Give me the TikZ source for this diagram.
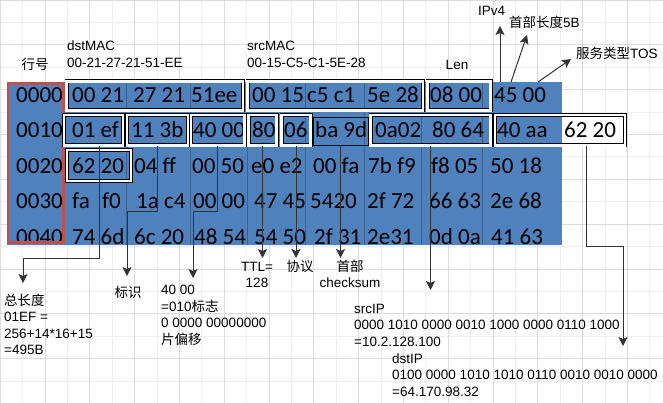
\documentclass[tikz,border=0pt]{standalone}
\usepackage{fontspec}
\setmainfont{Liberation Sans}
\newfontfamily\hexfont{Carlito}
\newfontfamily\cjk{Noto Sans CJK SC}
\usetikzlibrary{arrows.meta,fit,positioning}
\definecolor{hexblue}{HTML}{4F81BD}
\definecolor{rowred}{HTML}{C0504D}
\definecolor{gridminor}{HTML}{EEEEEE}
\definecolor{gridmajor}{HTML}{DCDCDC}
\tikzset{
  hexcell/.style={anchor=base west, inner sep=0pt, font=\hexfont\fontsize{23}{24}\selectfont},
  dbox/.style={draw=black, double=white, double distance=2.6pt, line width=0.7pt, inner sep=0pt},
  note/.style={inner sep=0pt, font=\fontsize{13.5}{16.4}\selectfont, align=left},
  conn/.style={draw=black!80, line width=1pt, -{Stealth[length=9pt,width=9pt,inset=2pt]}},
}

\begin{document}
\begin{tikzpicture}[x=1pt, y=-1pt]
\useasboundingbox (0,0) rectangle (663,403);
\fill[white] (0,0) rectangle (663,403);
\draw[gridminor, line width=0.6pt, step=22.4pt] (0pt,-403pt) grid (663pt,0pt);
\draw[gridmajor, line width=0.6pt, step=44.8pt] (0pt,-403pt) grid (663pt,0pt);

% hex dump area
\fill[hexblue] (7,82) rectangle (562,245);
\fill[white] (562,115) rectangle (625,145.5);
\draw[hexblue!75!black, line width=0.5pt] (126,82) -- (126,245) (190,82) -- (190,245) (247,82) -- (247,245)
  (305,82) -- (305,245) (364,82) -- (364,245) (421,82) -- (421,245) (482,82) -- (482,245);

\node (row0) [hexcell] at (16,102.5) {0000};
\node (row1) [hexcell] at (16,138) {0010};
\node (row2) [hexcell] at (16,173.5) {0020};
\node (row3) [hexcell] at (16,209) {0030};
\node (row4) [hexcell] at (16,244.5) {0040};

\node (h00) [hexcell] at (72,102.5) {00 21};
\node (h01) [hexcell] at (133,102.5) {27 21};
\node (h02) [hexcell] at (191,102.5) {51ee};
\node (h03) [hexcell] at (252,102.5) {00 15};
\node (h04) [hexcell] at (307,102.5) {c5 c1};
\node (h05) [hexcell] at (367,102.5) {5e 28};
\node (h06) [hexcell] at (430,102.5) {08 00};
\node (h07) [hexcell] at (494,102.5) {45 00};

\node (h10) [hexcell] at (72,138) {01 ef};
\node (h11) [hexcell] at (131,138) {11 3b};
\node (h12) [hexcell] at (193,138) {40 00};
\node (h13) [hexcell] at (252,138) {80};
\node (h14) [hexcell] at (284,138) {06};
\node (h15) [hexcell] at (315,138) {ba 9d};
\node (h16) [hexcell] at (375,138) {0a02};
\node (h17) [hexcell] at (432,138) {80 64};
\node (h18) [hexcell] at (497,138) {40 aa};
\node (h19) [hexcell] at (564,138) {62 20};

\node (h20) [hexcell] at (72,173.5) {62 20};
\node (h21) [hexcell] at (134,173.5) {04 ff};
\node (h22) [hexcell] at (192,173.5) {00 50};
\node (h23) [hexcell] at (251,173.5) {e0 e2};
\node (h24) [hexcell] at (313,173.5) {00 fa};
\node (h25) [hexcell] at (368,173.5) {7b f9};
\node (h26) [hexcell] at (431,173.5) {f8 05};
\node (h27) [hexcell] at (490,173.5) {50 18};

\node (h30) [hexcell] at (72,209) {fa};
\node (h30b) [hexcell] at (102,209) {f0};
\node (h31) [hexcell] at (136,209) {1a c4};
\node (h32) [hexcell] at (193,209) {00 00};
\node (h33) [hexcell] at (254,209) {47 45};
\node (h34) [hexcell] at (310,209) {5420};
\node (h35) [hexcell] at (367,209) {2f 72};
\node (h36) [hexcell] at (429,209) {66 63};
\node (h37) [hexcell] at (490,209) {2e 68};

\node (h40) [hexcell] at (72,244.5) {74 6d};
\node (h41) [hexcell] at (134,244.5) {6c 20};
\node (h42) [hexcell] at (194,244.5) {48 54};
\node (h43) [hexcell] at (254,244.5) {54 50};
\node (h44) [hexcell] at (314,244.5) {2f 31};
\node (h45) [hexcell] at (367,244.5) {2e31};
\node (h46) [hexcell] at (429,244.5) {0d 0a};
\node (h47) [hexcell] at (491,244.5) {41 63};

\draw[rowred, line width=2.6pt] (8,83.3) rectangle (63.7,242.7);

% field boxes
\node (bdst) [dbox, fit={(66.5,81.5) (243,110.5)}] {};
\node (bsrc) [dbox, fit={(247.5,81.5) (423,110.5)}] {};
\node (blen) [dbox, fit={(427.5,81.5) (490.5,110.5)}] {};
\node (btot) [dbox, fit={(64,115) (123,145.5)}] {};
\node (bid) [dbox, fit={(127,115) (188,145.5)}] {};
\node (bflag) [dbox, fit={(191,115) (244.5,145.5)}] {};
\node (bttl) [dbox, fit={(248.5,115) (276.5,145.5)}] {};
\node (bproto) [dbox, fit={(281.5,115) (310.5,145.5)}] {};
\node (bsum) [draw=black, line width=0.6pt, inner sep=0pt, fit={(313,117) (368,145)}] {};
\node (bsip) [dbox, fit={(370.5,115) (490.5,145.5)}] {};
\node (bdip) [dbox, fit={(495,115) (625,145.5)}] {};
\node (bdip2) [dbox, fit={(67,150) (131,181)}] {};

% labels (base = last line)
\node (rowhdr) [note, anchor=base] at (35,69.5) {\cjk 行号};
\node (dstmac) [note, anchor=base west] at (67,67.4) {dstMAC\\00-21-27-21-51-EE};
\node (srcmac) [note, anchor=base west] at (247,67.4) {srcMAC\\00-15-C5-C1-5E-28};
\node (lenlbl) [note, anchor=base] at (457,70) {Len};
\node (ipv4) [note, anchor=base west] at (478,16) {IPv4};
\node (hlen) [note, anchor=base west] at (509,28) {{\cjk 首部长度}5B};
\node (tos) [note, anchor=base west] at (576,59) {{\cjk 服务类型}TOS};

\node (totlen) [note, anchor=base west] at (4,354.4) {{\cjk 总长度}\\01EF =\\256+14*16+15\\=495B};
\node (ident) [note, anchor=base] at (128,297.5) {\cjk 标识};
\node (flagoff) [note, anchor=base west] at (161,344) {40 00\\=010{\cjk 标志}\\0 0000 00000000\\{\cjk 片偏移}};
\node (ttl) [note, align=center, anchor=base] at (257,287.4) {TTL=\\128};
\node (proto) [note, anchor=base] at (300,271) {\cjk 协议};
\node (chksum) [note, align=center, anchor=base] at (350,287.4) {{\cjk 首部}\\checksum};
\node (srcip) [note, anchor=base west] at (354,346) {srcIP\\0000 1010 0000 0010 1000 0000 0110 1000\\=10.2.128.100};
\node (dstip) [note, anchor=base west] at (392,396) {dstIP\\0100 0000 1010 1010 0110 0010 0010 0000\\=64.170.98.32};

% arrows from the fields
\coordinate (verfrom) at (500,82);
\coordinate (verto) at (500,26);
\coordinate (hlenfrom) at (511,82);
\coordinate (hlento) at (527,35);
\coordinate (tosfrom) at (538,82);
\coordinate (tosto) at (571,59);
\draw[conn] (verfrom) -- (verto);
\draw[conn] (hlenfrom) -- (hlento);
\draw[conn] (tosfrom) -- (tosto);

\coordinate (totbend) at (23,258);
\coordinate (totend) at (23,283);
\coordinate (idbend) at (127,212);
\coordinate (idend) at (127,276);
\coordinate (flagbend) at (193,212);
\coordinate (flagend) at (193,278);
\coordinate (tiprow) at (0,258);
\coordinate (srcend) at (0,290);
\coordinate (dipbend) at (623,246);
\coordinate (dipend) at (623,346);
\draw[conn] ([xshift=5.5pt]btot.south) |- (totbend) -- (totend);
\draw[conn] (bid.south) |- (idbend) -- (idend);
\draw[conn] (bflag.south) |- (flagbend) -- (flagend);
\draw[conn] (bttl.south) -- (bttl.south |- tiprow);
\draw[conn] (bproto.south) -- (bproto.south |- tiprow);
\draw[conn] (bsum.south) -- (bsum.south |- tiprow);
\draw[conn] (bsip.south) -- (bsip.south |- srcend);
\draw[conn] ([xshift=26pt]bdip.south) |- (dipbend) -- (dipend);
\end{tikzpicture}
\end{document}
